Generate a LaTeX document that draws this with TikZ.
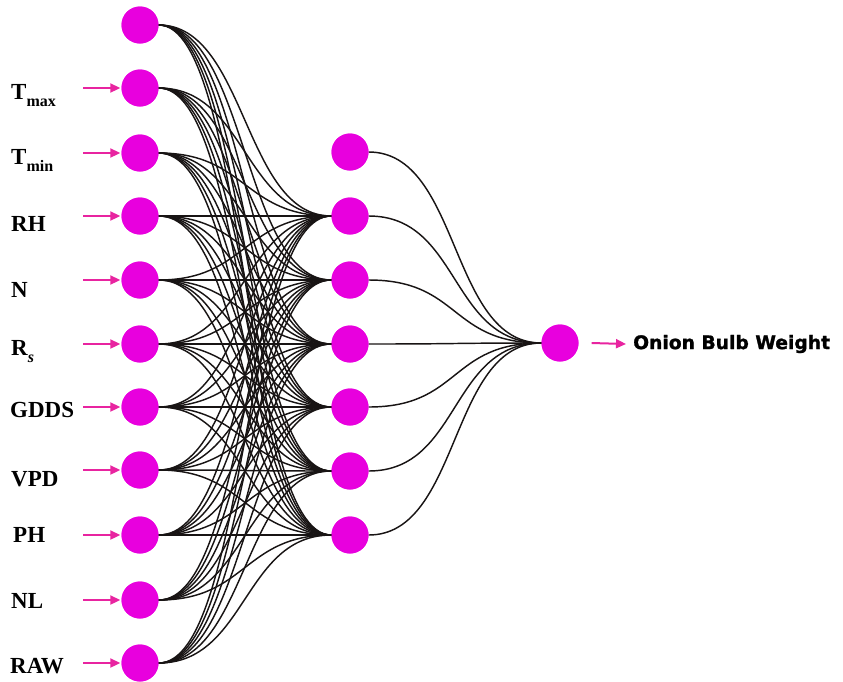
\documentclass[tikz,border=0pt]{standalone}
\usepackage{fontspec}
\setmainfont{Liberation Serif}
\newfontfamily\outfont[FakeBold=1.3]{DejaVu Sans Bold}
\usetikzlibrary{arrows.meta}
\definecolor{neuronfill}{RGB}{232,0,222}
\definecolor{feedpink}{RGB}{232,36,160}
\definecolor{wire}{RGB}{24,20,20}
% subscript for the input labels
\newcommand\lowidx[1]{\raisebox{-7pt}{\fontsize{16}{16}\selectfont #1}}
\begin{document}
\begin{tikzpicture}[x=1pt,y=-1pt,
  unit/.style={circle,fill=neuronfill,minimum size=37pt,inner sep=0pt},
  wirelink/.style={draw=wire,line width=1.45pt},
  feedarrow/.style={draw=feedpink,line width=2pt,-{Triangle[length=10pt,width=9pt]}},
  inlabel/.style={anchor=base west,inner sep=0pt,font=\bfseries\fontsize{23}{25}\selectfont},
  outlabel/.style={anchor=west,inner sep=0pt,font=\outfont\fontsize{18.7}{20}\selectfont}]
\useasboundingbox (0,0) rectangle (843,681);

% input layer (in0 is the bias unit)
\foreach \n/\y in {0/25,1/88,2/153,3/216,4/280,5/344,6/407,7/470,8/535,9/600,10/663}
  \node[unit] (in\n) at (140,\y) {};
% hidden layer (hid0 is the bias unit)
\foreach \n/\y in {0/152,1/216,2/280,3/344,4/407,5/471,6/535}
  \node[unit] (hid\n) at (350,\y) {};
% output unit
\node[unit] (out) at (560,343) {};

% weights input -> hidden
\foreach \i in {0,...,10}
  \foreach \h in {1,...,6}
    \draw[wirelink] (in\i.east) .. controls +(88,0) and +(-88,0) .. (hid\h.west);
% weights hidden -> output
\foreach \h in {0,...,6}
  \draw[wirelink] (hid\h.east) .. controls +(92,0) and +(-92,0) .. (out.west);

% redraw units above the wires
\foreach \n/\y in {0/25,1/88,2/153,3/216,4/280,5/344,6/407,7/470,8/535,9/600,10/663}
  \fill[neuronfill] (140,\y) circle (18.5pt);
\foreach \n/\y in {0/152,1/216,2/280,3/344,4/407,5/471,6/535}
  \fill[neuronfill] (350,\y) circle (18.5pt);
\fill[neuronfill] (560,343) circle (18.5pt);

% input labels
\node[inlabel] (lab1) at (11,99) {T\lowidx{max}};
\node[inlabel] (lab2) at (11,164) {T\lowidx{min}};
\node[inlabel] (lab3) at (11,231) {RH};
\node[inlabel] (lab4) at (11,297) {N};
\node[inlabel] (lab5) at (11,355) {R\lowidx{\itshape s}};
\node[inlabel] (lab6) at (10,417) {GDDS};
\node[inlabel] (lab7) at (11,486) {VPD};
\node[inlabel] (lab8) at (13,542) {PH};
\node[inlabel] (lab9) at (11,608) {NL};
\node[inlabel] (lab10) at (10,673) {RAW};

% feed arrows into the input units
\foreach \n/\y in {1/88,2/153,3/216,4/280,5/344,6/407,7/470,8/535,9/600,10/663} {
  \coordinate (src\n) at (83,\y);
  \draw[feedarrow] (src\n) -- ([xshift=-1pt]in\n.west);
}

% output label and arrow
\node[outlabel] (res) at (633,344) {Onion Bulb Weight};
\draw[feedarrow] ([xshift=13pt]out.east) -- ([xshift=-7pt]res.west);
\end{tikzpicture}
\end{document}
